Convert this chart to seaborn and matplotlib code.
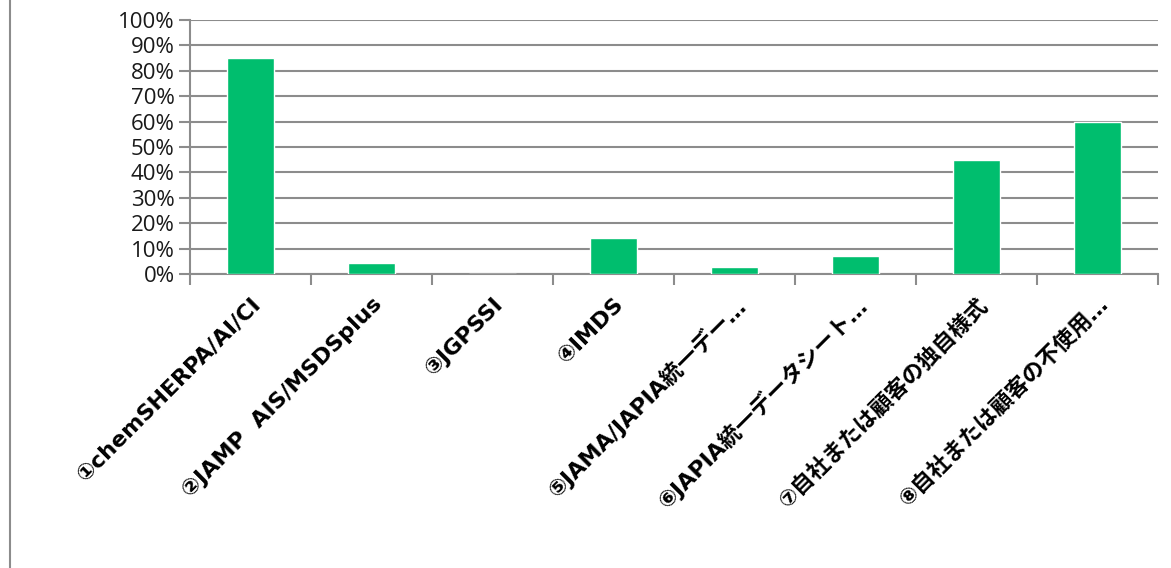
import matplotlib
matplotlib.use("Agg")
import matplotlib.pyplot as plt
from matplotlib.ticker import FixedLocator, FuncFormatter
from matplotlib.lines import Line2D
import seaborn as sns
import pandas as pd

categories = [
    "①chemSHERPA/AI/CI",
    "②JAMP  AIS/MSDSplus",
    "③JGPSSI",
    "④IMDS",
    "⑤JAMA/JAPIA統一デー…",
    "⑥JAPIA統一データシート…",
    "⑦自社または顧客の独自様式",
    "⑧自社または顧客の不使用…",
]
values = [85.2, 4.2, 0.0, 14.2, 2.7, 7.1, 45.0, 59.8]
y_ticks = [0, 10, 20, 30, 40, 50, 60, 70, 80, 90, 100]

sns.set_theme(style="white")
plt.rcParams["font.family"] = ["Noto Sans CJK JP", "DejaVu Sans"]

df = pd.DataFrame({"cat": categories, "val": values})

fig = plt.figure(figsize=(11.71, 5.68), dpi=100)
ax = fig.add_axes([190 / 1171, 1 - 274 / 568, (1158 - 190) / 1171, (274 - 20) / 568])

grid_col = "#8c8c8c"
sns.barplot(data=df, x="cat", y="val", color="#00BE6E", width=0.39,
            saturation=1, ax=ax, zorder=3)

ax.set_ylim(0, 100)
ax.set_xlim(-0.5, len(categories) - 0.5)
ax.yaxis.set_major_locator(FixedLocator(y_ticks))
ax.yaxis.set_major_formatter(FuncFormatter(lambda v, p: f"{int(v)}%"))
ax.grid(axis="y", color=grid_col, linewidth=1.5, zorder=0)
ax.set_axisbelow(True)

for s in ["top", "right"]:
    ax.spines[s].set_visible(False)
for s in ["left", "bottom"]:
    ax.spines[s].set_color(grid_col)
    ax.spines[s].set_linewidth(1.5)

ax.tick_params(axis="y", which="major", direction="out", length=8, width=1.5,
               color=grid_col, labelsize=16, pad=3, left=True)
ax.tick_params(axis="x", which="major", length=0, pad=14)
ax.xaxis.set_minor_locator(FixedLocator([i - 0.5 for i in range(len(categories) + 1)]))
ax.tick_params(axis="x", which="minor", direction="out", length=8, width=1.5,
               color=grid_col, bottom=True)

for lab in ax.get_yticklabels():
    lab.set_family(["Open Sans", "DejaVu Sans"])
    lab.set_color("#1a1a1a")

ax.set_xticks(range(len(categories)))
ax.set_xticklabels(categories, rotation=45, ha="right", rotation_mode="anchor",
                   fontsize=16, fontweight="bold", color="black",
                   family=["DejaVu Sans", "Noto Sans CJK JP"])
ax.set_xlabel("")
ax.set_ylabel("")

fig.add_artist(Line2D([10 / 1171, 10 / 1171], [0, 1], color="#8c8c8c", linewidth=1.5,
                      transform=fig.transFigure))

fig.savefig("out.png", dpi=100)
